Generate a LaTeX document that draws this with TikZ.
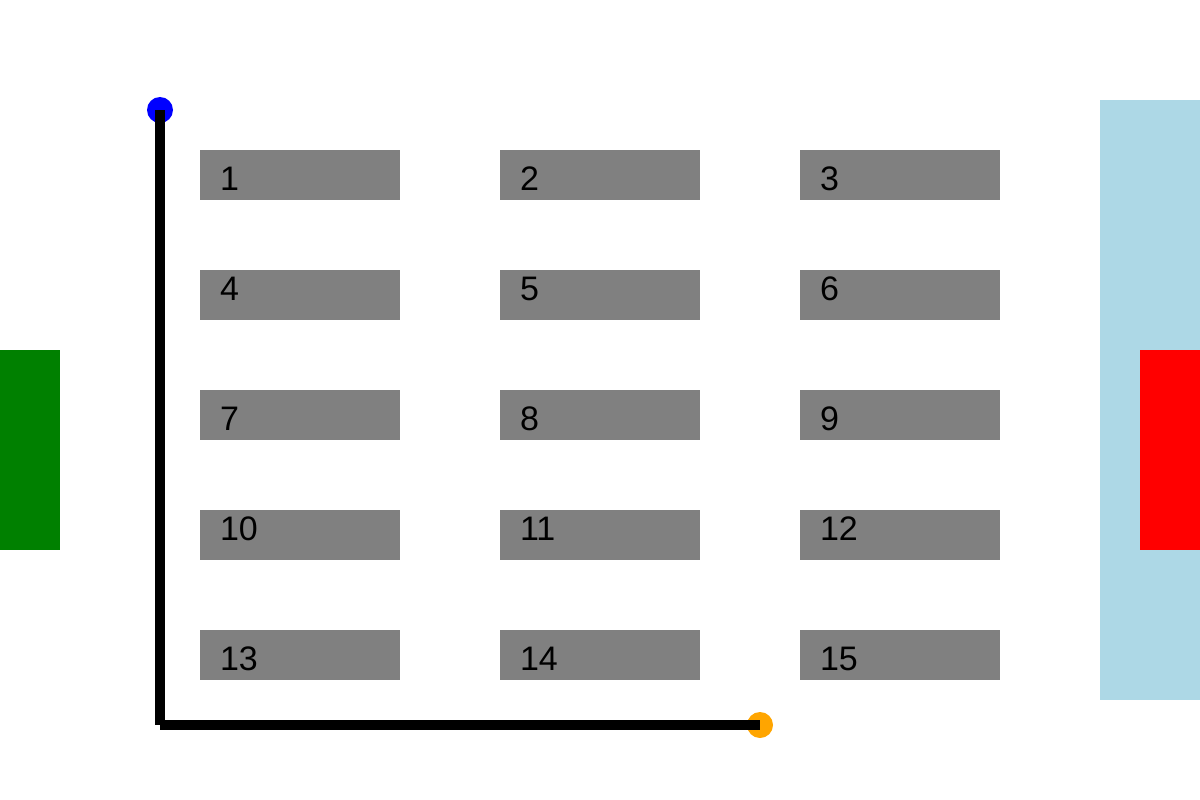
\documentclass[tikz,border=0pt]{standalone}
\usepackage{fontspec}
\setmainfont{Liberation Sans}
\begin{document}
\begin{tikzpicture}[x=1pt,y=-1pt,
  seat/.style={fill={rgb,255:red,128;green,128;blue,128}, draw=none, minimum width=200pt, minimum height=50pt, inner sep=0pt, outer sep=0pt},
  lbl/.style={anchor=base west, inner sep=0pt, outer sep=0pt, font=\fontsize{34}{34}\selectfont, text=black},
  dot/.style={circle, draw=none, minimum size=26pt, inner sep=0pt, outer sep=0pt},
  path/.style={line width=10pt, line cap=butt, draw=black}]
\useasboundingbox (0,0) rectangle (1200,800);
\definecolor{myGreen}{RGB}{0,128,0}
\definecolor{myLightBlue}{RGB}{173,216,230}
\definecolor{myOrange}{RGB}{255,165,0}
\fill[myGreen] (0,350) rectangle (60,550);
\fill[myLightBlue] (1100,100) rectangle (1200,700);
\fill[red] (1140,350) rectangle (1200,550);
% seats
\foreach \r/\y/\b [count=\i from 0] in {0/175/190, 1/295/300, 2/415/430, 3/535/540, 4/655/670}{
  \foreach \c/\x/\tx in {1/300/220, 2/600/520, 3/900/820}{
    \pgfmathtruncatemacro{\n}{\r*3+\c}
    \node[seat] (s\n) at (\x,\y) {};
    \node[lbl] (t\n) at (\tx,\b) {\n};
  }
}
\node[dot, fill=blue] (start) at (160,110) {};
\node[dot, fill=myOrange] (end) at (760,725) {};
\coordinate (corner) at (160,725);
\draw[path] (start.center) -- (corner);
\draw[path] (corner) -- (end.center);
\end{tikzpicture}
\end{document}
